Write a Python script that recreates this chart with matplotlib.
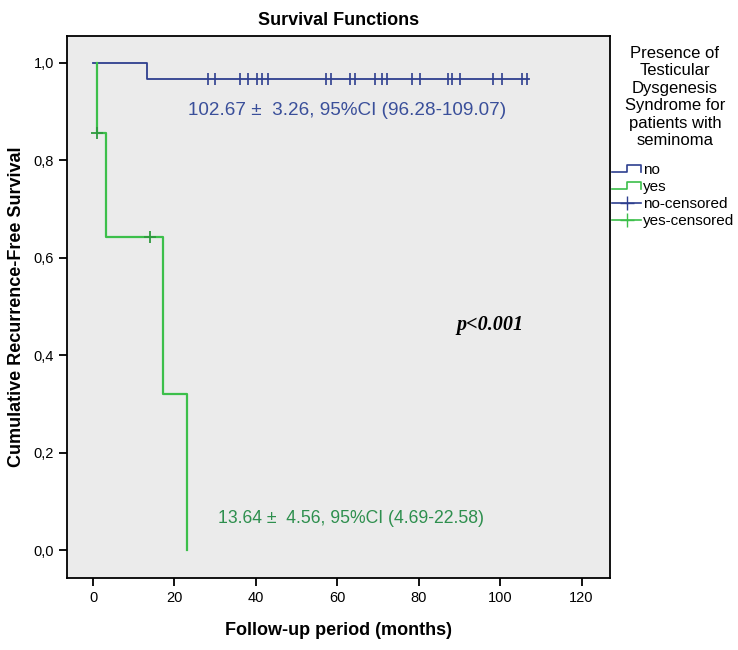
import matplotlib
matplotlib.use("Agg")
import matplotlib.pyplot as plt
from matplotlib.legend_handler import HandlerBase
from matplotlib.lines import Line2D

plt.rcParams['font.family'] = ['Liberation Sans', 'DejaVu Sans']

# Kaplan-Meier steps
no_times = [0, 13.3, 107]
no_surv = [1.0, 0.966, 0.966]
no_censor_t = [28.2, 30.0, 36.1, 38.0, 40.2, 41.5, 43.0, 57.2, 58.4, 63.1, 64.3,
               69.2, 70.9, 72.1, 78.3, 80.2, 87.1, 88.3, 90.1, 98.2, 100.4, 105.3, 106.5]

yes_times = [1.0, 1.0, 3.2, 17.2, 23.0]
yes_surv = [1.0, 0.857, 0.643, 0.321, 0.0]
yes_censor_t = [1.0, 14.0]
yes_censor_s = [0.857, 0.643]

blue = '#2e3f8f'
green = '#3cbf4a'
blue_txt = '#3a4f9a'
green_txt = '#2e8f4e'


class StepHandler(HandlerBase):
    def create_artists(self, legend, orig, xd, yd, w, h, fontsize, trans):
        x = [xd, xd + w * 0.5, xd + w * 0.5, xd + w, xd + w]
        y = [yd + h * 0.2, yd + h * 0.2, yd + h * 0.85, yd + h * 0.85, yd + h * 0.2]
        ln = Line2D(x, y, color=orig.get_color(), lw=1.2, transform=trans)
        return [ln]


fig = plt.figure(figsize=(7.38, 6.5), dpi=100)
ax = fig.add_axes([0.0908, 0.1108, 0.7358, 0.8338])
ax.set_facecolor('#ebebeb')

ax.step(no_times, no_surv, where='post', color=blue, lw=1.3)
ax.plot(no_censor_t, [no_surv[-1]] * len(no_censor_t), ls='none', marker='|',
        ms=8, mew=1.2, color=blue)

ax.step(yes_times, yes_surv, where='post', color=green, lw=1.6)
ax.plot(yes_censor_t, yes_censor_s, ls='none', marker='+', ms=8, mew=1.3, color='#2e9a3e')

ax.set_xlim(-6.4, 127)
ax.set_ylim(-0.057, 1.055)
ax.set_xticks([0, 20, 40, 60, 80, 100, 120])
ax.set_yticks([0.0, 0.2, 0.4, 0.6, 0.8, 1.0])
ax.set_yticklabels(['0,0', '0,2', '0,4', '0,6', '0,8', '1,0'])
ax.tick_params(labelsize=10.5, length=6, width=1.3, color='black')
for s in ax.spines.values():
    s.set_linewidth(1.3)

ax.text(62.3, 0.903, '102.67 \u00b1  3.26, 95%CI (96.28-109.07)', color=blue_txt,
        fontsize=13.6, ha='center', va='center')
ax.text(63.3, 0.066, '13.64 \u00b1  4.56, 95%CI (4.69-22.58)', color=green_txt,
        fontsize=12.7, ha='center', va='center')
ax.text(97.4, 0.462, 'p<0.001', family='Liberation Serif', fontweight='bold',
        style='italic', fontsize=14.5, ha='center', va='center')

ax.set_title('Survival Functions', fontsize=13, fontweight='bold', pad=8)
ax.set_xlabel('Follow-up period (months)', fontsize=13, fontweight='bold', labelpad=12)
ax.set_ylabel('Cumulative Recurrence-Free Survival', fontsize=13, fontweight='bold', labelpad=6)

# legend title as separate text so the gap below it matches
fig.text(675 / 738, 1 - 46 / 650,
         'Presence of\nTesticular\nDysgenesis\nSyndrome for\npatients with\nseminoma',
         ha='center', va='top', fontsize=12, multialignment='center', linespacing=1.2)

h_no = Line2D([], [], color=blue)
h_yes = Line2D([], [], color=green)
h_noc = Line2D([], [], color=blue, marker='+', ms=10, lw=1.2)
h_yesc = Line2D([], [], color=green, marker='+', ms=10, lw=1.2)
fig.legend([h_no, h_yes, h_noc, h_yesc], ['no', 'yes', 'no-censored', 'yes-censored'],
           loc='upper left', bbox_to_anchor=(612 / 738, 1 - 163 / 650), frameon=False,
           fontsize=11, handlelength=1.9, handletextpad=0.1,
           labelspacing=0.2, borderaxespad=0, borderpad=0,
           handler_map={h_no: StepHandler(), h_yes: StepHandler()})

fig.savefig('out.png', dpi=100)
